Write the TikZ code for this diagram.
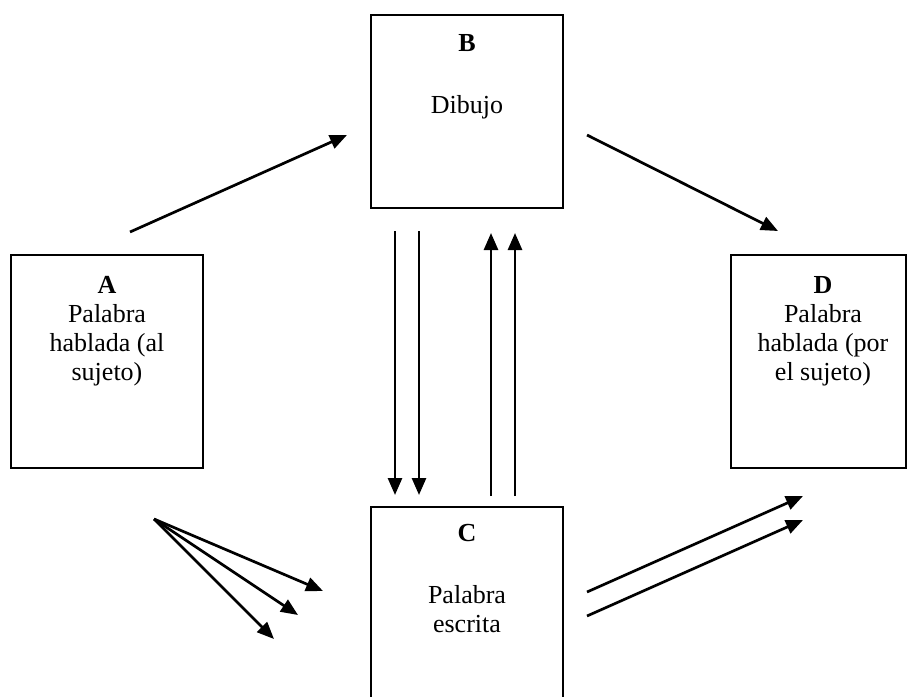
\documentclass[tikz,border=0pt]{standalone}
\usepackage{fontspec}
\setmainfont{Liberation Serif}
\usetikzlibrary{arrows.meta}
\begin{document}
\begin{tikzpicture}[x=1pt,y=-1pt,
  box/.style={draw, line width=2.3pt, inner sep=0pt},
  lbl/.style={font=\fontsize{26}{29}\selectfont, align=center, anchor=north, inner sep=0pt},
  arr/.style={line width=2.7pt, -{Triangle[length=17pt,width=14pt]}}]
\useasboundingbox (0,0) rectangle (910,696);
% boxes
\node[box, minimum width=192pt, minimum height=213pt] (A) at (107,361.5) {};
\node[box, minimum width=192pt, minimum height=193pt] (B) at (467,111.5) {};
\node[box, minimum width=192pt, minimum height=213pt] (C) at (467,613.5) {};
\node[box, minimum width=175pt, minimum height=213pt] (D) at (818.5,361.5) {};
% labels
\node[lbl] (At) at (107,276) {\textbf{A}\\Palabra\\hablada (al\\sujeto)};
\node[lbl] (Bt) at (467,34) {\textbf{B}\\[33pt]Dibujo};
\node[lbl] (Ct) at (467,524) {\textbf{C}\\[33pt]Palabra\\escrita};
\node[lbl] (Dt) at (823,276) {\textbf{D}\\Palabra\\hablada (por\\el sujeto)};
% arrow end points
\coordinate (ab1) at (130,232);  \coordinate (ab2) at (347,135);
\coordinate (bd1) at (587,135);  \coordinate (bd2) at (778,231);
\coordinate (dn1s) at (395,231); \coordinate (dn1e) at (395,495);
\coordinate (dn2s) at (419,231); \coordinate (dn2e) at (419,495);
\coordinate (up1s) at (491,496); \coordinate (up1e) at (491,233);
\coordinate (up2s) at (515,496); \coordinate (up2e) at (515,233);
\coordinate (f0) at (154,519);
\coordinate (f1) at (323,591);
\coordinate (f2) at (298,615);
\coordinate (f3) at (274,639);
\coordinate (r1s) at (587,592);  \coordinate (r1e) at (803,496);
\coordinate (r2s) at (587,616);  \coordinate (r2e) at (803,520);
% arrows
\draw[arr] (ab1) -- (ab2);
\draw[arr] (bd1) -- (bd2);
\draw[arr] (dn1s) -- (dn1e);
\draw[arr] (dn2s) -- (dn2e);
\draw[arr] (up1s) -- (up1e);
\draw[arr] (up2s) -- (up2e);
\draw[arr] (f0) -- (f1);
\draw[arr] (f0) -- (f2);
\draw[arr] (f0) -- (f3);
\draw[arr] (r1s) -- (r1e);
\draw[arr] (r2s) -- (r2e);
\end{tikzpicture}
\end{document}
